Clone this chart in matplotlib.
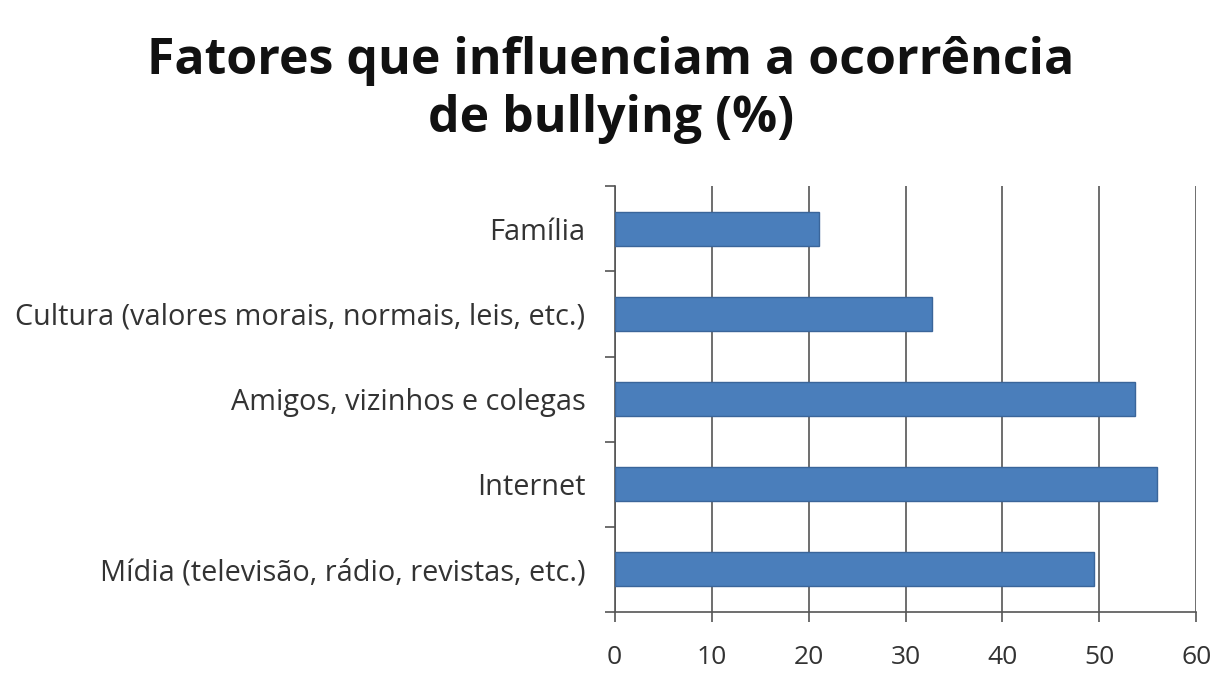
import matplotlib.pyplot as plt
import numpy as np

categorias = ['Família', 'Cultura (valores morais, normais, leis, etc.)',
              'Amigos, vizinhos e colegas', 'Internet',
              'Mídia (televisão, rádio, revistas, etc.)']
valores = [21.1, 32.7, 53.7, 55.9, 49.4]
xticks = [0, 10, 20, 30, 40, 50, 60]

plt.rcParams['font.family'] = ['Open Sans', 'DejaVu Sans']

fig = plt.figure(figsize=(12.22, 6.77), dpi=100)
ax = fig.add_axes([0.503, 0.096, 0.476, 0.629])

y = np.arange(len(categorias))
ax.barh(y, valores, height=0.4, color='#4A7EBB', edgecolor='#3A659A',
        linewidth=1, zorder=3)

ax.set_xlim(0, 60)
ax.set_ylim(len(categorias) - 0.5, -0.5)
ax.set_xticks(xticks)
ax.set_xticklabels([str(t) for t in xticks], fontsize=19, color='#333333')
ax.set_yticks(y)
ax.set_yticklabels(categorias, fontsize=20.8, color='#333333')
ax.set_yticks(np.arange(len(categorias) + 1) - 0.5, minor=True)
ax.tick_params(axis='y', which='major', length=0, pad=21)
ax.tick_params(axis='y', which='minor', length=7, width=1.2, color='#555555')
ax.tick_params(axis='x', length=7, width=1.2, color='#555555', pad=17)

ax.grid(axis='x', color='#555555', linewidth=1.2, zorder=0)
for s in ['top', 'right']:
    ax.spines[s].set_visible(False)
for s in ['left', 'bottom']:
    ax.spines[s].set_color('#555555')
    ax.spines[s].set_linewidth(1.2)

fig.text(0.5, 0.867, 'Fatores que influenciam a ocorrência\nde bullying (%)',
         ha='center', va='center', fontsize=36, fontweight='bold',
         color='#111111', linespacing=1.22)

fig.savefig('out.png', dpi=100)
